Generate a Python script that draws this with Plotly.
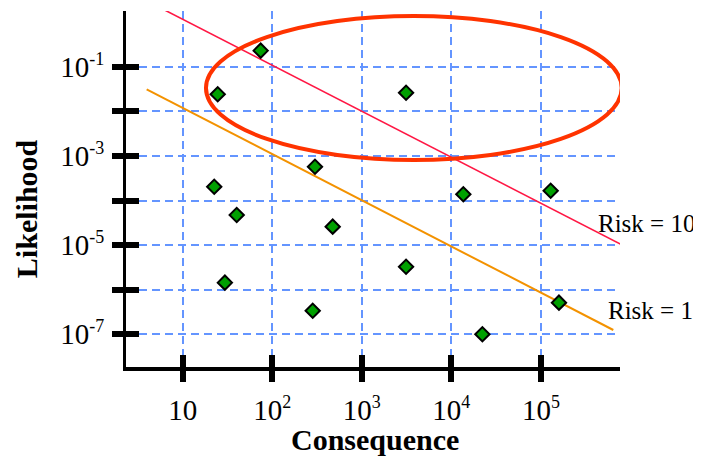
import plotly.graph_objects as go

# ---- data ----
consequence = [74.3, 24.6, 3120, 300, 22.5, 40.1, 13600, 128500, 473, 3120, 29.6, 283, 159000, 22200]
likelihood = [0.229, 0.0241, 0.0261, 5.73e-4, 2.04e-4, 4.73e-5, 1.38e-4, 1.66e-4, 2.59e-5, 3.28e-6, 1.44e-6, 3.38e-7, 5.12e-7, 1.0e-7]

risk10_C = [5.48, 847000]
risk10_L = [2.15, 9.55e-6]
risk1_C = [3.96, 643000]
risk1_L = [0.0311, 1.25e-7]

ellipse_C = [18.2, 798000]
ellipse_L = [8.09e-4, 1.37]

x_tick_vals = [10, 100, 1000, 10000, 100000]
x_tick_exps = ["", "2", "3", "4", "5"]
y_tick_vals = [1e-1, 1e-2, 1e-3, 1e-4, 1e-5, 1e-6, 1e-7]
y_tick_exps = ["-1", None, "-3", None, "-5", None, "-7"]

x_range_log = [0.367, 5.883]
y_range_log = [-7.733, 0.249]

SERIF = "Liberation Serif"
GRID = "#6495ff"


def power_label(exp):
    if exp is None:
        return " "
    if exp == "":
        return "10"
    return "10<sup><span style='font-size:18px'>" + exp + "</span></sup>"


x_tick_text = [power_label(e) for e in x_tick_exps]
y_tick_text = [power_label(e) for e in y_tick_exps]

fig = go.Figure()

fig.add_trace(go.Scatter(x=risk10_C, y=risk10_L, mode="lines",
                         line=dict(color="#ff1744", width=1.6), hoverinfo="skip"))
fig.add_trace(go.Scatter(x=risk1_C, y=risk1_L, mode="lines",
                         line=dict(color="#f39200", width=2), hoverinfo="skip"))
fig.add_trace(go.Scatter(x=consequence, y=likelihood, mode="markers",
                         marker=dict(symbol="diamond", size=11, color="#00a000",
                                     line=dict(color="black", width=2))))
# invisible trace on overlay axes (used for crossing tick marks)
fig.add_trace(go.Scatter(x=[x_tick_vals[0]], y=[y_tick_vals[0]], xaxis="x2", yaxis="y2",
                         mode="markers", marker=dict(opacity=0), hoverinfo="skip"))

fig.add_shape(type="circle", xref="x", yref="y",
              x0=ellipse_C[0], x1=ellipse_C[1], y0=ellipse_L[0], y1=ellipse_L[1],
              line=dict(color="#ff3300", width=4))

common_axis = dict(showline=True, linecolor="black", mirror=False, zeroline=False,
                   ticks="outside", ticklen=11, tickwidth=6, tickcolor="black",
                   tickfont=dict(family=SERIF, size=29, color="black"),
                   showgrid=True, gridcolor=GRID, gridwidth=2, griddash="8px,5px")

# the page body has an 8px margin; the figure is sized/margined to compensate
fig.update_layout(
    width=693, height=450,
    margin=dict(l=118, r=81, t=3, b=91),
    paper_bgcolor="white", plot_bgcolor="white",
    showlegend=False,
    xaxis=dict(type="log", range=x_range_log, tickvals=x_tick_vals, ticktext=x_tick_text,
               linewidth=4, ticklabelstandoff=3, **common_axis),
    yaxis=dict(type="log", range=y_range_log, tickvals=y_tick_vals, ticktext=y_tick_text,
               linewidth=3, ticklabelstandoff=2, **common_axis),
    xaxis2=dict(type="log", range=x_range_log, overlaying="x", anchor="y", side="bottom",
                tickvals=x_tick_vals, showticklabels=False, showgrid=False, showline=False,
                zeroline=False, ticks="inside", ticklen=12, tickwidth=6, tickcolor="black"),
    yaxis2=dict(type="log", range=y_range_log, overlaying="y", anchor="x", side="left",
                tickvals=y_tick_vals, showticklabels=False, showgrid=False, showline=False,
                zeroline=False, ticks="inside", ticklen=13, tickwidth=6, tickcolor="black"),
    annotations=[
        dict(text="<b>Consequence</b>", xref="paper", yref="paper", x=0.505, y=-0.205,
             xanchor="center", yanchor="middle", showarrow=False,
             font=dict(family=SERIF, size=30, color="black")),
        dict(text="<b>Likelihood</b>", xref="paper", yref="paper", x=-0.2, y=0.444,
             xanchor="center", yanchor="middle", showarrow=False, textangle=-90,
             font=dict(family=SERIF, size=30, color="black")),
        dict(text="Risk = 10", xref="paper", yref="paper", x=0.951, y=0.402,
             xanchor="left", yanchor="middle", showarrow=False,
             font=dict(family=SERIF, size=25, color="black")),
        dict(text="Risk = 1", xref="paper", yref="paper", x=0.972, y=0.160,
             xanchor="left", yanchor="middle", showarrow=False,
             font=dict(family=SERIF, size=25, color="black")),
    ],
)

fig.write_html("out.html")
